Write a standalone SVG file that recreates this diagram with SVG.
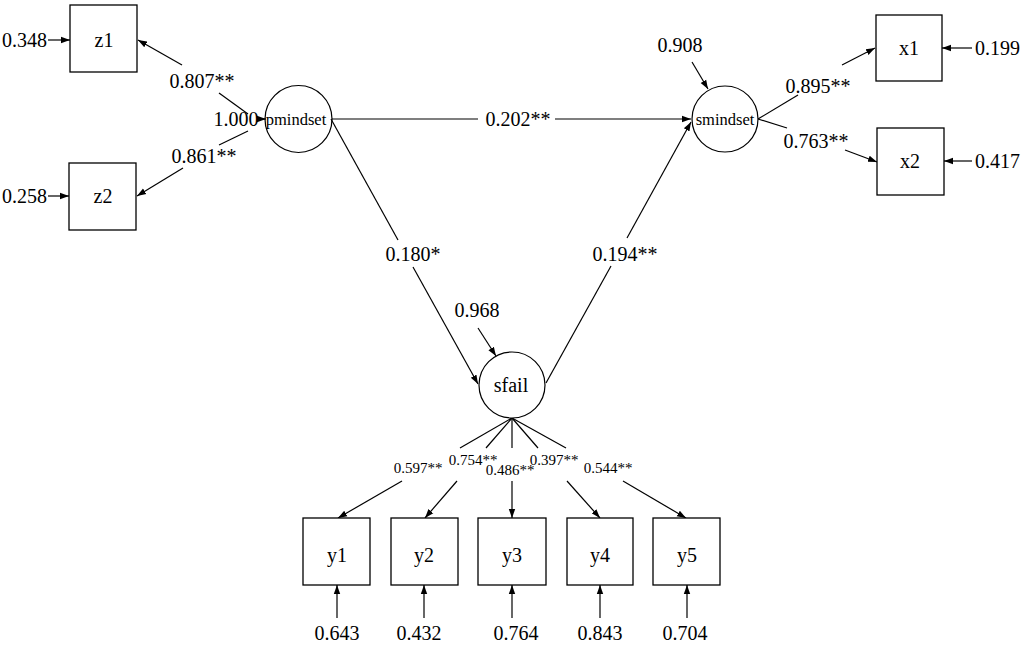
<svg xmlns="http://www.w3.org/2000/svg" width="1024" height="646" viewBox="0 0 1024 646" font-family="'Liberation Serif', 'DejaVu Serif', serif">
<style>
  text { font-family: 'Liberation Serif', 'DejaVu Serif', serif; fill: #000; }
  .t { font-size: 20px; }
  .s { font-size: 15px; }
  .m { font-size: 16.5px; }
  .box { fill: #fff; stroke: #000; stroke-width: 1.3; }
  .lat { fill: #fff; stroke: #000; stroke-width: 1.2; }
  .ln { stroke: #000; stroke-width: 1.2; fill: none; }
  .arr { stroke: #000; stroke-width: 1.2; fill: none; marker-end: url(#ah); }
</style>
<defs>
  <marker id="ah" markerUnits="userSpaceOnUse" markerWidth="10" markerHeight="8" refX="9" refY="4" orient="auto">
    <path d="M0,0.8 L9,4 L0,7.2 Z" fill="#000"/>
  </marker>
</defs>
<rect width="1024" height="646" fill="#fff"/>

<g id="connectors">
  <line class="ln" x1="248" y1="114" x2="219" y2="93"/>
  <line class="arr" x1="182" y1="65" x2="138" y2="40"/>
  <line class="ln" x1="248" y1="131" x2="219" y2="145"/>
  <line class="arr" x1="183" y1="168" x2="137" y2="196"/>
  <line class="arr" x1="259" y1="119" x2="266" y2="119"/>
  <line class="ln" x1="332" y1="119" x2="478" y2="119"/>
  <line class="arr" x1="555" y1="119" x2="691" y2="119"/>
  <line class="ln" x1="331" y1="119" x2="398" y2="240"/>
  <line class="arr" x1="413" y1="267" x2="478" y2="384"/>
  <line class="ln" x1="546" y1="383" x2="611" y2="266"/>
  <line class="arr" x1="627" y1="238" x2="691" y2="122"/>
  <line class="ln" x1="758" y1="119" x2="798" y2="95"/>
  <line class="arr" x1="842" y1="65" x2="875" y2="48"/>
  <line class="ln" x1="758" y1="119" x2="787" y2="128"/>
  <line class="arr" x1="845" y1="150" x2="877" y2="162"/>
  <line class="arr" x1="692" y1="62" x2="708" y2="89"/>
  <line class="arr" x1="478" y1="328" x2="496" y2="356"/>
  <line class="ln" x1="512" y1="418" x2="460" y2="448"/>
  <line class="arr" x1="402" y1="481" x2="338" y2="518"/>
  <line class="ln" x1="512" y1="418" x2="486" y2="448"/>
  <line class="arr" x1="457" y1="481" x2="425" y2="518"/>
  <line class="ln" x1="512" y1="418" x2="512" y2="448"/>
  <line class="arr" x1="512" y1="481" x2="512" y2="518"/>
  <line class="ln" x1="512" y1="418" x2="538" y2="448"/>
  <line class="arr" x1="567" y1="481" x2="600" y2="518"/>
  <line class="ln" x1="512" y1="418" x2="566" y2="448"/>
  <line class="arr" x1="623" y1="481" x2="686" y2="518"/>
  <line class="arr" x1="48" y1="40" x2="70" y2="40"/>
  <line class="arr" x1="48" y1="196" x2="69" y2="196"/>
  <line class="arr" x1="972" y1="48" x2="942" y2="48"/>
  <line class="arr" x1="972" y1="161" x2="944" y2="161"/>
  <line class="arr" x1="337" y1="618" x2="337" y2="585"/>
  <line class="arr" x1="424" y1="618" x2="424" y2="585"/>
  <line class="arr" x1="512" y1="618" x2="512" y2="585"/>
  <line class="arr" x1="600" y1="618" x2="600" y2="585"/>
  <line class="arr" x1="687" y1="618" x2="687" y2="585"/>
</g>

<g id="labels">
  <text class="t" x="202" y="88" text-anchor="middle">0.807**</text>
  <text class="t" x="204" y="163" text-anchor="middle">0.861**</text>
  <text class="t" x="236" y="126" text-anchor="middle">1.000</text>
  <text class="t" x="518" y="126" text-anchor="middle">0.202**</text>
  <text class="t" x="413" y="261" text-anchor="middle">0.180*</text>
  <text class="t" x="625" y="261" text-anchor="middle">0.194**</text>
  <text class="t" x="818" y="93" text-anchor="middle">0.895**</text>
  <text class="t" x="816" y="148" text-anchor="middle">0.763**</text>
  <text class="t" x="680" y="52" text-anchor="middle">0.908</text>
  <text class="t" x="477" y="317" text-anchor="middle">0.968</text>
  <text class="s" x="418" y="473" text-anchor="middle">0.597**</text>
  <text class="s" x="473" y="465" text-anchor="middle">0.754**</text>
  <text class="s" x="510" y="475" text-anchor="middle">0.486**</text>
  <text class="s" x="554" y="465" text-anchor="middle">0.397**</text>
  <text class="s" x="608" y="473" text-anchor="middle">0.544**</text>
  <text class="t" x="47" y="47" text-anchor="end">0.348</text>
  <text class="t" x="47" y="203" text-anchor="end">0.258</text>
  <text class="t" x="975" y="55">0.199</text>
  <text class="t" x="975" y="168">0.417</text>
  <text class="t" x="337" y="640" text-anchor="middle">0.643</text>
  <text class="t" x="419" y="640" text-anchor="middle">0.432</text>
  <text class="t" x="516" y="640" text-anchor="middle">0.764</text>
  <text class="t" x="600" y="640" text-anchor="middle">0.843</text>
  <text class="t" x="685" y="640" text-anchor="middle">0.704</text>
</g>

<g id="z1"><rect class="box" x="70" y="5" width="67" height="67"/><text class="t" x="104" y="47" text-anchor="middle">z1</text></g>
<g id="z2"><rect class="box" x="69" y="163" width="67" height="67"/><text class="t" x="103" y="203" text-anchor="middle">z2</text></g>
<g id="x1"><rect class="box" x="876" y="15" width="66" height="66"/><text class="t" x="909" y="55" text-anchor="middle">x1</text></g>
<g id="x2"><rect class="box" x="877" y="128" width="67" height="67"/><text class="t" x="910" y="168" text-anchor="middle">x2</text></g>
<g id="y1"><rect class="box" x="303" y="518" width="67" height="67"/><text class="t" x="337" y="562" text-anchor="middle">y1</text></g>
<g id="y2"><rect class="box" x="391" y="518" width="67" height="67"/><text class="t" x="424" y="562" text-anchor="middle">y2</text></g>
<g id="y3"><rect class="box" x="478" y="518" width="68" height="67"/><text class="t" x="512" y="562" text-anchor="middle">y3</text></g>
<g id="y4"><rect class="box" x="567" y="518" width="66" height="67"/><text class="t" x="600" y="562" text-anchor="middle">y4</text></g>
<g id="y5"><rect class="box" x="653" y="518" width="67" height="67"/><text class="t" x="687" y="562" text-anchor="middle">y5</text></g>

<g id="pmindset"><circle class="lat" cx="298.5" cy="119" r="33.5" fill-opacity="0"/><text class="m" x="296" y="125" text-anchor="middle">pmindset</text></g>
<g id="smindset"><circle class="lat" cx="725" cy="119" r="33" fill-opacity="0"/><text class="m" x="725" y="125" text-anchor="middle">smindset</text></g>
<g id="sfail"><circle class="lat" cx="512" cy="385" r="33"/><text class="t" x="511" y="392" text-anchor="middle">sfail</text></g>
</svg>
